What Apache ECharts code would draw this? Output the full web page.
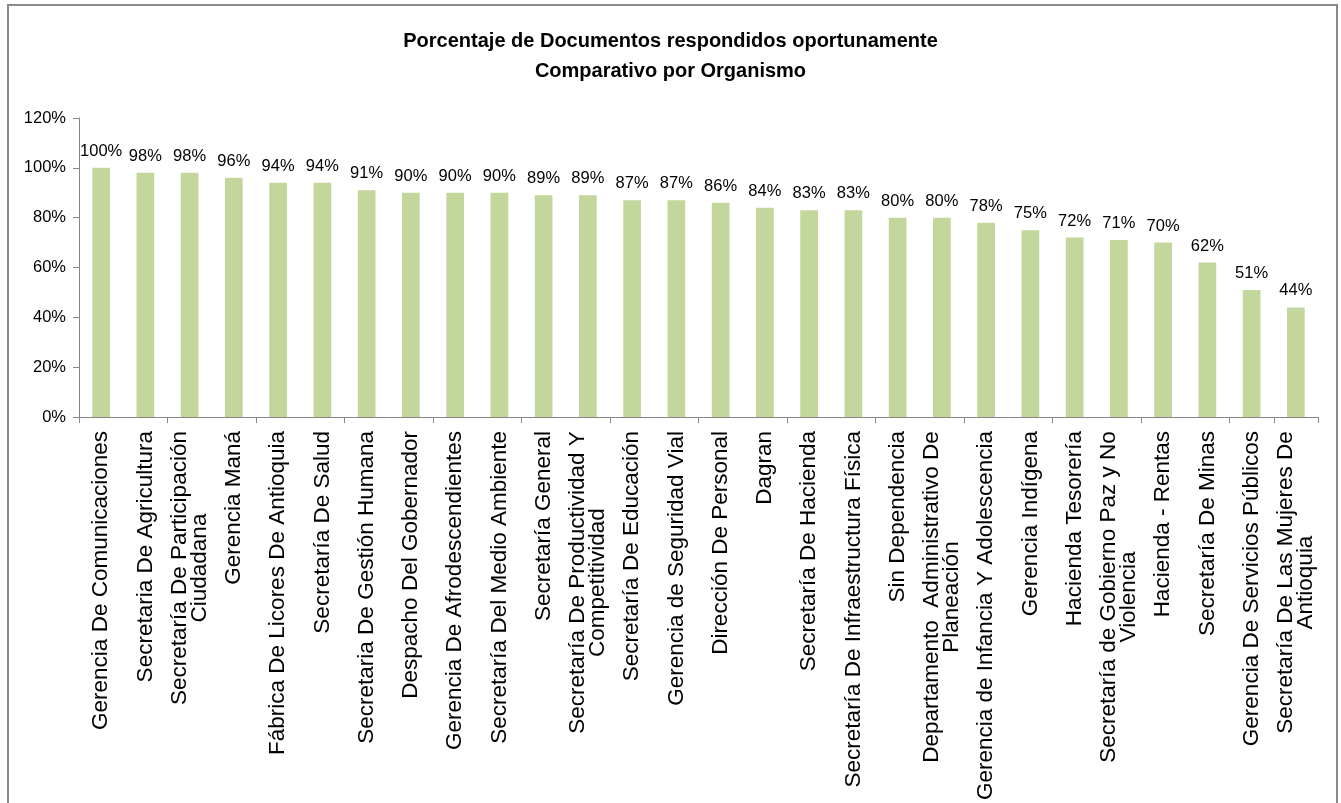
<!DOCTYPE html>
<html>
<head>
<meta charset="utf-8">
<script src="https://cdn.jsdelivr.net/npm/echarts@6/dist/echarts.min.js"></script>
<style>
  html, body { margin: 0; padding: 0; background: #fff; }
  #chart { width: 1341px; height: 803px; }
</style>
</head>
<body>
<div id="chart"></div>
<script>
// categorias (organismos)
var organismos = [
  'Gerencia De Comunicaciones',
  'Secretaria De Agricultura',
  'Secretaría De Participación\nCiudadana',
  'Gerencia Maná',
  'Fábrica De Licores De Antioquia',
  'Secretaría De Salud',
  'Secretaria De Gestión Humana',
  'Despacho Del Gobernador',
  'Gerencia De Afrodescendientes',
  'Secretaría Del Medio Ambiente',
  'Secretaría General',
  'Secretaría De Productividad Y\nCompetitividad',
  'Secretaría De Educación',
  'Gerencia de Seguridad Vial',
  'Dirección De Personal',
  'Dagran',
  'Secretaría De Hacienda',
  'Secretaría De Infraestructura Física',
  'Sin Dependencia',
  'Departamento  Administrativo De\nPlaneación',
  'Gerencia de Infancia Y Adolescencia',
  'Gerencia Indígena',
  'Hacienda Tesorería',
  'Secretaría de Gobierno Paz y No\nViolencia',
  'Hacienda - Rentas',
  'Secretaría De Minas',
  'Gerencia De Servicios Públicos',
  'Secretaría De Las Mujeres De\nAntioquia'
];

// porcentaje respondido oportunamente
var porcentajes = [100, 98, 98, 96, 94, 94, 91, 90, 90, 90, 89, 89, 87, 87, 86, 84, 83, 83, 80, 80, 78, 75, 72, 71, 70, 62, 51, 44];

var titulo = 'Porcentaje de Documentos respondidos oportunamente\nComparativo por Organismo';

var font = '"Liberation Sans", Arial, sans-serif';
var catSize = 22.5;

// rich styles so the wrapped lines are centered on each other
var ctx = document.createElement('canvas').getContext('2d');
ctx.font = catSize + 'px ' + font;
var rich = {};
var labelsFmt = organismos.map(function (name, i) {
  var lines = name.split('\n');
  if (lines.length < 2) return name;
  var w = 0;
  lines.forEach(function (l) { w = Math.max(w, ctx.measureText(l).width); });
  rich['c' + i] = { width: Math.ceil(w), align: 'center', fontSize: catSize, fontFamily: font, lineHeight: 20, color: '#000' };
  return lines.map(function (l) { return '{c' + i + '|' + l + '}'; }).join('\n');
});

var myChart = echarts.init(document.getElementById('chart'));
var option = {
  backgroundColor: '#fff',
  animation: false,
  title: {
    text: titulo,
    left: 'center',
    top: 21,
    textStyle: {
      fontFamily: font,
      fontWeight: 'bold',
      fontSize: 20,
      lineHeight: 30,
      color: '#000'
    }
  },
  graphic: [{
    type: 'rect',
    shape: { x: 8, y: 5, width: 1329, height: 820 },
    style: { fill: 'none', stroke: '#8a8a8a', lineWidth: 2 },
    silent: true
  }],
  grid: {
    left: 79,
    right: 23,
    top: 118,
    bottom: 383,
    containLabel: false
  },
  xAxis: {
    type: 'category',
    data: organismos,
    axisLine: { lineStyle: { color: '#868686', width: 1 } },
    axisTick: { show: true, interval: 1, length: 6, lineStyle: { color: '#868686' } },
    axisLabel: {
      interval: 0,
      rotate: 90,
      margin: 14,
      color: '#000',
      fontSize: catSize,
      fontFamily: font,
      lineHeight: 20,
      formatter: function (v, idx) { return labelsFmt[idx]; },
      rich: rich
    }
  },
  yAxis: {
    type: 'value',
    min: 0,
    max: 120,
    interval: 20,
    splitLine: { show: false },
    axisLine: { show: true, lineStyle: { color: '#868686' } },
    axisTick: { show: true, length: 6, lineStyle: { color: '#868686' } },
    axisLabel: {
      formatter: '{value}%',
      margin: 13,
      color: '#000',
      fontSize: 16.5,
      fontFamily: font
    }
  },
  series: [{
    type: 'bar',
    data: porcentajes,
    barWidth: '40%',
    itemStyle: { color: '#c3d69b' },
    label: {
      show: true,
      position: 'top',
      distance: 8,
      formatter: '{c}%',
      color: '#000',
      fontSize: 16.5,
      fontFamily: font
    }
  }]
};
myChart.setOption(option);
</script>
</body>
</html>
